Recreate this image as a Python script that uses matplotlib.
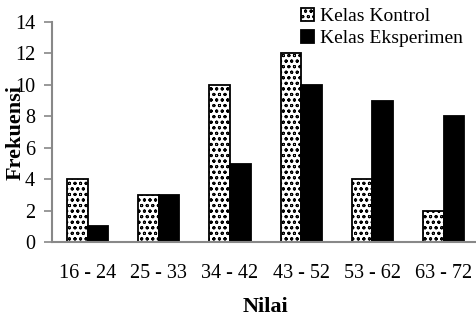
import matplotlib.pyplot as plt
import numpy as np

plt.rcParams['font.family'] = ['Liberation Serif', 'DejaVu Serif']
plt.rcParams['hatch.linewidth'] = 0.7

kelas = ['16 - 24', '25 - 33', '34 - 42', '43 - 52', '53 - 62', '63 - 72']
kontrol = [4, 3, 10, 12, 4, 2]
eksperimen = [1, 3, 5, 10, 9, 8]

fig = plt.figure(figsize=(4.76, 3.29), dpi=100)
ax = fig.add_axes([0.109, 0.264, 0.898, 0.669])

x = np.arange(len(kelas))
w = 0.29
ax.bar(x - w / 2, kontrol, w, color='white', edgecolor='black', linewidth=1.3,
       hatch='ooo', label='Kelas Kontrol')
ax.bar(x + w / 2, eksperimen, w, color='black', edgecolor='black', linewidth=1.3,
       label='Kelas Eksperimen')

ax.set_xlim(-0.5, 5.5)
ax.set_ylim(0, 14)
ax.set_yticks(range(0, 15, 2))
ax.set_xticks(x)
ax.set_xticklabels(kelas, fontsize=14.5)
ax.tick_params(axis='y', labelsize=14.5, length=6, color='#888888', width=1.2, pad=6)
ax.tick_params(axis='x', length=0, pad=16)

for s in ['top', 'right']:
    ax.spines[s].set_visible(False)
for s in ['left', 'bottom']:
    ax.spines[s].set_color('#888888')
    ax.spines[s].set_linewidth(1.5)

ax.set_xlabel('Nilai', fontsize=16, fontweight='bold', labelpad=10)
ax.set_ylabel('Frekuensi', fontsize=16, fontweight='bold')
ax.yaxis.set_label_coords(-0.062, 0.5)

ax.legend(loc='upper left', bbox_to_anchor=(0.565, 1.1), frameon=False,
          fontsize=14, handlelength=0.65, handleheight=0.65, handletextpad=0.3,
          labelspacing=0.25, borderaxespad=0)

fig.savefig('out.png', dpi=100)
